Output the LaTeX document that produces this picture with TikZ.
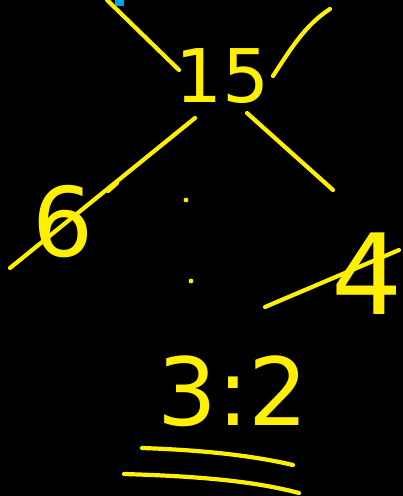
\documentclass[tikz,border=0pt]{standalone}
\usepackage{fontspec}
\setmainfont{DejaVu Sans}
\definecolor{pen}{RGB}{255,240,0}
\definecolor{tip}{RGB}{0,160,230}
\begin{document}
\begin{tikzpicture}[x=1pt,y=-1pt,
  stroke/.style={draw=pen,line width=4.2pt,line cap=round,line join=round},
  digit/.style={text=pen,inner sep=0pt,font=\fontsize{#1}{#1}\selectfont},
  dotmark/.style={fill=pen,draw=none}]
\fill[black] (0,0) rectangle (403,496);
\useasboundingbox (0,0) rectangle (403,496);
% small blue mark at the top
\fill[tip] (115,0) rectangle (124,6);
% numbers
\node[digit=74] (n15) at (223,76) {15};
\node[digit=96] (n6) at (63,222) {6};
\node[digit=112] (n4) at (367,274) {4};
\node[digit=94] (n32) at (233,391) {3:2};
% branches around 15
\draw[stroke] (107,0) -- (179,70);
\draw[stroke] (330,9) .. controls (305,25) and (290,50) .. (273,76);
\draw[stroke] (195,118) -- (10,268);
\draw[stroke] (108,191) -- (117,183);
\draw[stroke] (247,113) -- (333,190);
% slash through 4
\draw[stroke] (265,307) -- (399,250);
% dots
\fill[dotmark] (186,200) circle (2.4);
\fill[dotmark] (191,281) circle (2.4);
% double underline
\draw[stroke] (142,448) .. controls (200,450) and (250,455) .. (293,465);
\draw[stroke] (124,474) .. controls (190,476) and (250,480) .. (299,493);
\end{tikzpicture}
\end{document}
